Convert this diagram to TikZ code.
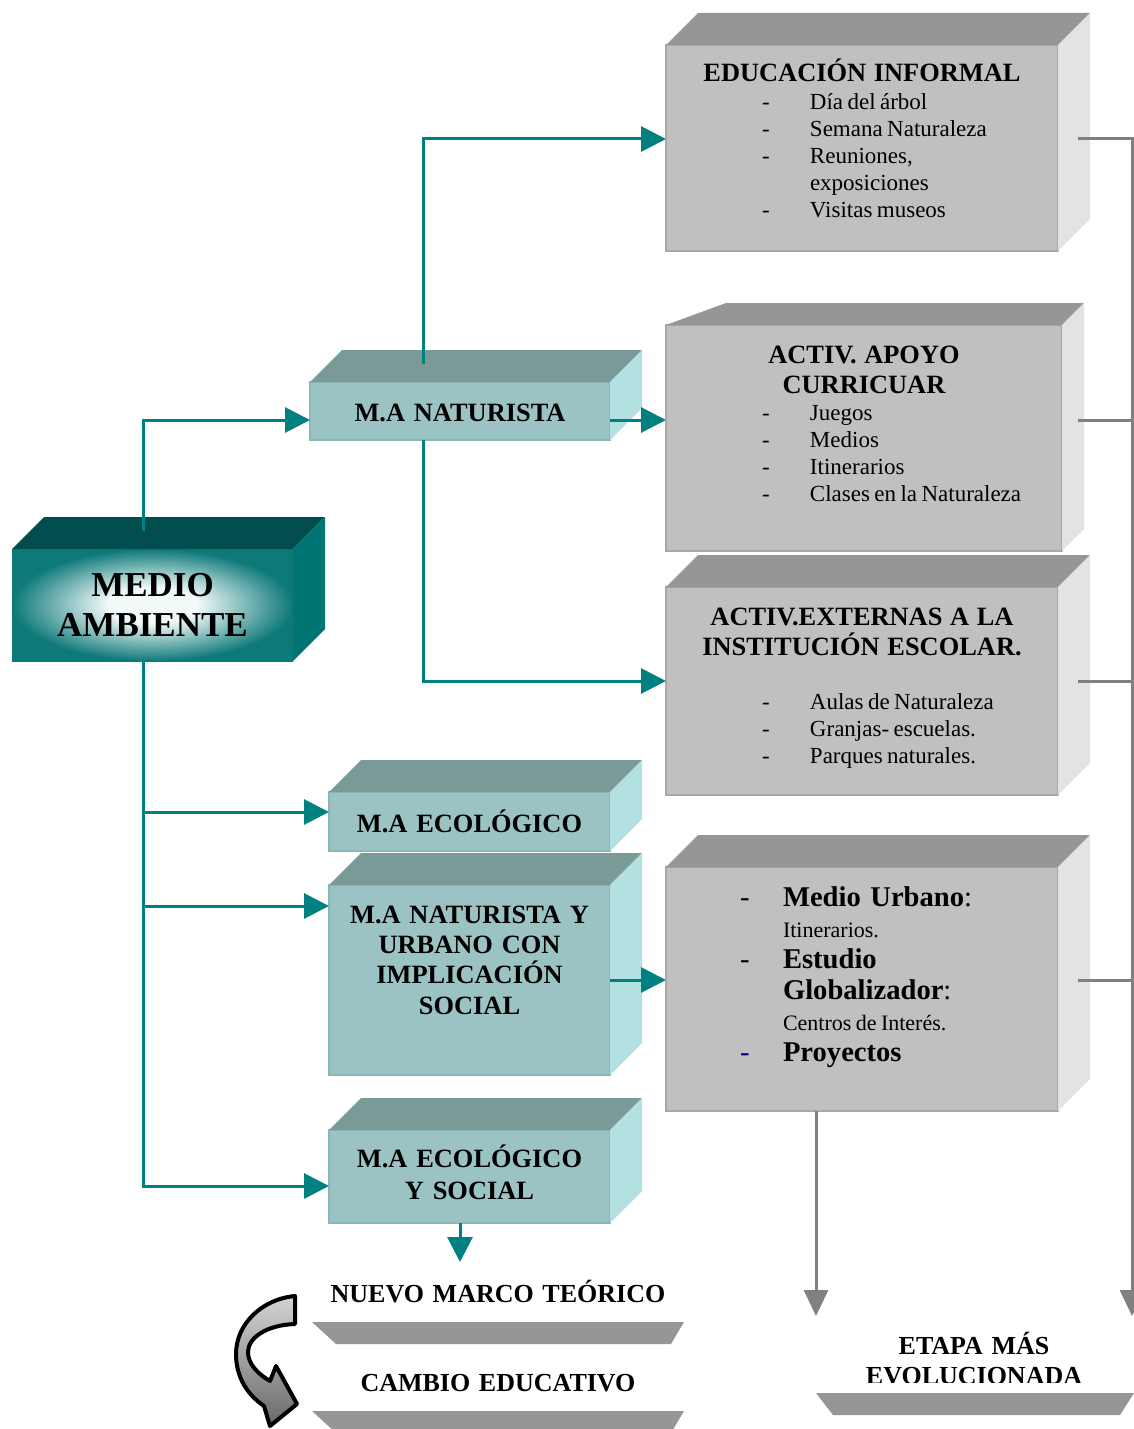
\documentclass[tikz,border=0pt]{standalone}
\usepackage{fontspec}
\setmainfont{Liberation Serif}
\usetikzlibrary{arrows.meta,calc}

\definecolor{verdeazul}{HTML}{008080}
\definecolor{frenteverde}{HTML}{9CC3C3}
\definecolor{bordeverde}{HTML}{8DB6B6}
\definecolor{tapaverde}{HTML}{7A9A98}
\definecolor{ladoverde}{HTML}{B3E0E0}
\definecolor{tapaoscura}{HTML}{024E4E}
\definecolor{ladooscuro}{HTML}{017474}
\definecolor{bordemedio}{HTML}{0E7979}
\definecolor{frentegris}{HTML}{C0C0C0}
\definecolor{bordegris}{HTML}{A8A8A8}
\definecolor{tapagris}{HTML}{969696}
\definecolor{ladogris}{HTML}{E3E3E3}
\definecolor{lineagris}{HTML}{808080}
\definecolor{azulguion}{HTML}{000080}
\definecolor{flechaclara}{HTML}{D4D4D4}
\definecolor{flechaoscura}{HTML}{686868}
\colorlet{brillocentro}{white!95!verdeazul}

\pgfdeclareradialshading{brillo}{\pgfpoint{0bp}{0bp}}{color(0bp)=(brillocentro); color(8bp)=(brillocentro); color(25bp)=(bordemedio); color(50bp)=(bordemedio)}

% renglones de las cajas grises
\newcommand{\titulo}[1]{{\bfseries\fontsize{13.2pt}{13.5pt}\selectfont #1}}
\newcommand{\guion}[2][-]{\makebox[196pt][l]{\spaceskip=2.2pt\relax\hspace*{48pt}\makebox[24pt][l]{#1}#2}}
\newcommand{\punto}[2][-]{\makebox[196pt][l]{\hspace*{37pt}\makebox[21.5pt][l]{#1}#2}}
\newcommand{\chica}{\fontsize{11pt}{15.5pt}\selectfont\spaceskip=2.2pt\relax}
% tapa y lado de una caja en relieve
\newcommand{\caras}[5]{%
  \fill[#4] (#1.north west) -- ++(#2,-#3) -- ($(#1.north east)+(#3,-#3)$) -- (#1.north east) -- cycle;
  \fill[#5] (#1.north east) -- ++(#3,-#3) -- ($(#1.south east)+(#3,-#3)$) -- (#1.south east) -- cycle;
}

\begin{document}
\begin{tikzpicture}[
        x=0.5pt, y=-0.5pt,
        caja/.style={rectangle, outer sep=0pt, inner sep=0pt, align=center, text height=9pt},
        gris/.style={caja, fill=frentegris, draw=bordegris, line width=1.2pt, text width=196pt, font=\fontsize{11.5pt}{13.5pt}\selectfont},
        verde/.style={caja, fill=frenteverde, draw=bordeverde, line width=1.2pt, text width=140.5pt, text height=11pt, font=\bfseries\fontsize{13.2pt}{15.2pt}\selectfont},
        blanco/.style={caja, fill=white, text width=186pt, font=\bfseries\fontsize{13pt}{15pt}\selectfont},
        arrow/.style={-{Triangle[length=12.5pt,width=12.5pt]}, line width=1.5pt, draw=verdeazul},
        garrow/.style={-{Triangle[length=13pt,width=12pt]}, line width=1.5pt, draw=lineagris},
        gline/.style={line width=1.5pt, draw=lineagris},
        base/.style={fill=tapagris}
    ]
    \useasboundingbox (0,0) rectangle (1134,1429);
    \clip (0,0) rectangle (1134,1429);

    % cajas grises
    \node (educ) [gris, minimum height=103pt, text depth=75pt] at (862,148)
        {\titulo{EDUCACIÓN INFORMAL}\\[0.5pt]
         \guion{Día del árbol}\\ \guion{Semana Naturaleza}\\ \guion{Reuniones,}\\ \guion[]{exposiciones}\\ \guion{Visitas museos}};
    \node (apoyo) [gris, text width=198pt, minimum height=113pt, text depth=84pt] at (864,438)
        {\titulo{ACTIV. APOYO\\[1.5pt] CURRICUAR}\\
         \hspace*{-2pt}\guion{Juegos}\\ \hspace*{-2pt}\guion{Medios}\\ \hspace*{-2pt}\guion{Itinerarios}\\ \hspace*{-2pt}\guion{Clases en la Naturaleza}};
    \node (externas) [gris, minimum height=104pt, text depth=75pt] at (862,691)
        {\titulo{ACTIV.EXTERNAS A LA\\[1.5pt] INSTITUCIÓN ESCOLAR.}\\[13.5pt]
         \guion{Aulas de Naturaleza}\\ \guion{Granjas- escuelas.}\\ \guion{Parques naturales.}};
    \node (urbano) [gris, minimum height=122pt, text depth=92pt, font=\fontsize{14.3pt}{15.5pt}\selectfont] at (862,989)
        {\punto{\textbf{Medio Urbano}:}\\
         \punto[]{\chica Itinerarios.}\\
         \punto{\textbf{Estudio}}\\
         \punto[]{\textbf{Globalizador}:}\\
         \punto[]{\chica Centros de Interés.}\\
         \punto[\textcolor{azulguion}{-}]{\textbf{Proyectos}}};

    % cajas verdes
    \node (medio) [caja, shading=brillo, text width=140.5pt, minimum height=56pt, text height=12pt, text depth=21pt,
        font=\bfseries\fontsize{17.5pt}{20pt}\selectfont] at (152.5,605) {MEDIO\\AMBIENTE};
    \node (nat) [verde, text width=150pt, minimum height=29pt] at (460,411) {M.A NATURISTA};
    \node (eco) [verde, minimum height=29.5pt] at (469.5,821.5) {M.A ECOLÓGICO};
    \node (natur) [verde, minimum height=95pt, text depth=68pt] at (469.5,980)
        {M.A NATURISTA Y\\URBANO CON\\IMPLICACIÓN\\SOCIAL};
    \node (ecosoc) [verde, minimum height=46.5pt, text depth=20.5pt] at (469.5,1176.5)
        {M.A ECOLÓGICO\\[0.8pt]Y SOCIAL};

    % cajas blancas de abajo
    \node (nuevo) [blanco, minimum height=30pt, text height=11pt] at (498,1292) {NUEVO MARCO TEÓRICO};
    \node (cambio) [blanco, minimum height=28pt] at (498,1383) {CAMBIO EDUCATIVO};
    \begin{scope}
        \clip (800,1300) rectangle (1134,1382);
        \node (etapa) [blanco, text width=158pt, minimum height=38.5pt, text depth=9.5pt] at (974,1354.5)
            {ETAPA MÁS\\EVOLUCIONADA};
    \end{scope}

    \fill[base] (nuevo.south west) -- (nuevo.south east) -- ++(-13,22) -- ($(nuevo.south west)+(24,22)$) -- cycle;
    \fill[base] (cambio.south west) -- (cambio.south east) -- ++(-13,22) -- ($(cambio.south west)+(24,22)$) -- cycle;
    \fill[base] (etapa.south west) -- ($(etapa.south east)+(2,0)$) -- ++(-14,22) -- ($(etapa.south west)+(17,22)$) -- cycle;

    % relieve
    \caras{educ}{32}{32}{tapagris}{ladogris}
    \caras{apoyo}{60}{22}{tapagris}{ladogris}
    \caras{externas}{32}{32}{tapagris}{ladogris}
    \caras{urbano}{32}{32}{tapagris}{ladogris}
    \caras{medio}{32}{32}{tapaoscura}{ladooscuro}
    \caras{nat}{32}{32}{tapaverde}{ladoverde}
    \caras{eco}{32}{32}{tapaverde}{ladoverde}
    \caras{natur}{32}{32}{tapaverde}{ladoverde}
    \caras{ecosoc}{32}{32}{tapaverde}{ladoverde}

    % flechas verdes
    \draw[arrow] ([xshift=-4.75pt,yshift=9pt]medio.north) |- ([yshift=-4.5pt]nat.west);
    \draw[arrow] ([xshift=-4.75pt]medio.south) |- ([yshift=4.75pt]eco.west);
    \draw[arrow] ([xshift=-4.75pt]medio.south) |- ([yshift=37pt]natur.west);
    \draw[arrow] ([xshift=-4.75pt]medio.south) |- ([yshift=-4.75pt]ecosoc.west);
    \draw[arrow] ([xshift=-18.5pt,yshift=9pt]nat.north) |- ([yshift=4.5pt]educ.west);
    \draw[arrow] ([xshift=-18.5pt]nat.south) |- ([yshift=5pt]externas.west);
    \draw[arrow] ([yshift=-4.5pt]nat.east) -- ([yshift=-4.5pt]nat.east -| apoyo.west);
    \draw[arrow] (natur.east) -- (natur.east -| urbano.west);
    \draw[arrow] ([xshift=-4.75pt]ecosoc.south) -- ([xshift=-4.75pt]ecosoc.south |- nuevo.north);

    % flechas grises
    \draw[garrow] ([xshift=10pt,yshift=4.5pt]educ.east) -| (etapa.north east);
    \draw[gline] ([xshift=8pt,yshift=9pt]apoyo.east) -- ([yshift=9pt]apoyo.east -| etapa.north east);
    \draw[gline] ([xshift=10pt,yshift=5pt]externas.east) -- ([yshift=5pt]externas.east -| etapa.north east);
    \draw[gline] ([xshift=10pt,yshift=4.5pt]urbano.east) -- ([yshift=4.5pt]urbano.east -| etapa.north east);
    \draw[garrow] ([xshift=-23pt]urbano.south) -- ([xshift=-23pt]urbano.south |- etapa.north);

    % flecha curva
    \draw[line width=2pt, line join=round, top color=flechaclara, bottom color=flechaoscura]
        (295,1296) .. controls (262,1299) and (236,1324) .. (236,1354)
        .. controls (236,1378) and (248,1395) .. (264,1406)
        -- (270,1426) -- (297,1404) -- (276,1366) -- (270,1381)
        .. controls (258,1374) and (248,1364) .. (248,1352)
        .. controls (248,1338) and (266,1325) .. (295,1324) -- cycle;

\end{tikzpicture}
\end{document}
